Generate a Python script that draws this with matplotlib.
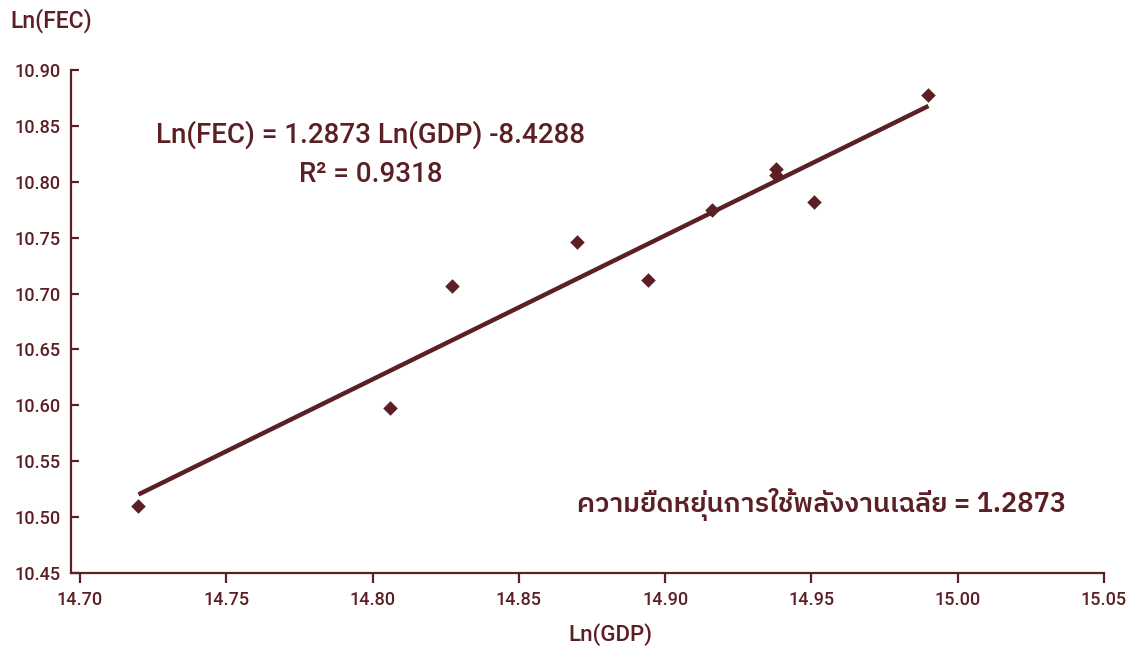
import numpy as np
import matplotlib
matplotlib.use('Agg')
import matplotlib.pyplot as plt

# Ln(GDP) vs Ln(FEC)
ln_gdp = [14.720, 14.806, 14.827, 14.870, 14.894, 14.916, 14.938, 14.938, 14.951, 14.990]
ln_fec = [10.510, 10.598, 10.707, 10.746, 10.712, 10.775, 10.811, 10.806, 10.782, 10.878]

slope = 1.2873
intercept = -8.4288
r2 = 0.9318

x_ticks = [14.70, 14.75, 14.80, 14.85, 14.90, 14.95, 15.00, 15.05]
y_ticks = [10.45, 10.50, 10.55, 10.60, 10.65, 10.70, 10.75, 10.80, 10.85, 10.90]

col = '#5b1f24'
latin = ['Roboto', 'DejaVu Sans']
thai = ['IBM Plex Sans Thai', 'DejaVu Sans']

plt.rcParams['font.family'] = latin
plt.rcParams['font.weight'] = 'medium'

fig = plt.figure(figsize=(11.33, 6.52), dpi=100)
ax = fig.add_axes([0.0631, 0.1212, 0.9113, 0.7714])

ax.scatter(ln_gdp, ln_fec, marker='D', s=55, color=col, zorder=3, linewidths=0)

xs = np.array([min(ln_gdp), max(ln_gdp)])
ax.plot(xs, slope * xs + intercept, color=col, lw=3.2, solid_capstyle='butt', zorder=2)

ax.set_xlim(14.6971, 15.05)
ax.set_ylim(10.45, 10.90)
ax.set_xticks(x_ticks)
ax.set_yticks(y_ticks)
ax.set_xticklabels(['%.2f' % v for v in x_ticks])
ax.set_yticklabels(['%.2f' % v for v in y_ticks])

for s in ['top', 'right']:
    ax.spines[s].set_visible(False)
for s in ['left', 'bottom']:
    ax.spines[s].set_color(col)
    ax.spines[s].set_linewidth(1.6)

ax.tick_params(axis='y', direction='in', length=6, width=1.6, color=col,
               labelcolor=col, labelsize=13, pad=8)
ax.tick_params(axis='x', direction='out', length=7, width=1.6, color=col,
               labelcolor=col, labelsize=13, pad=6)

fig.text(0.009, 0.968, 'Ln(FEC)', color=col, fontsize=16.5, ha='left', va='center')
fig.text(0.539, 0.027, 'Ln(GDP)', color=col, fontsize=16, ha='center', va='center')

ax.text(0.2895, 0.871, 'Ln(FEC) = %.4f Ln(GDP) -%.4f' % (slope, -intercept),
        transform=ax.transAxes, color=col, fontsize=20, ha='center', va='center')
ax.text(0.2895, 0.792, 'R² = %.4f' % r2,
        transform=ax.transAxes, color=col, fontsize=20, ha='center', va='center')

ax.text(0.9637, 0.137, 'ความยืดหยุ่นการใช้พลังงานเฉลี่ย = %.4f' % slope,
        transform=ax.transAxes, color=col, fontsize=19.5, ha='right', va='center',
        family=thai, weight='semibold')

fig.savefig('out.png', dpi=100)
